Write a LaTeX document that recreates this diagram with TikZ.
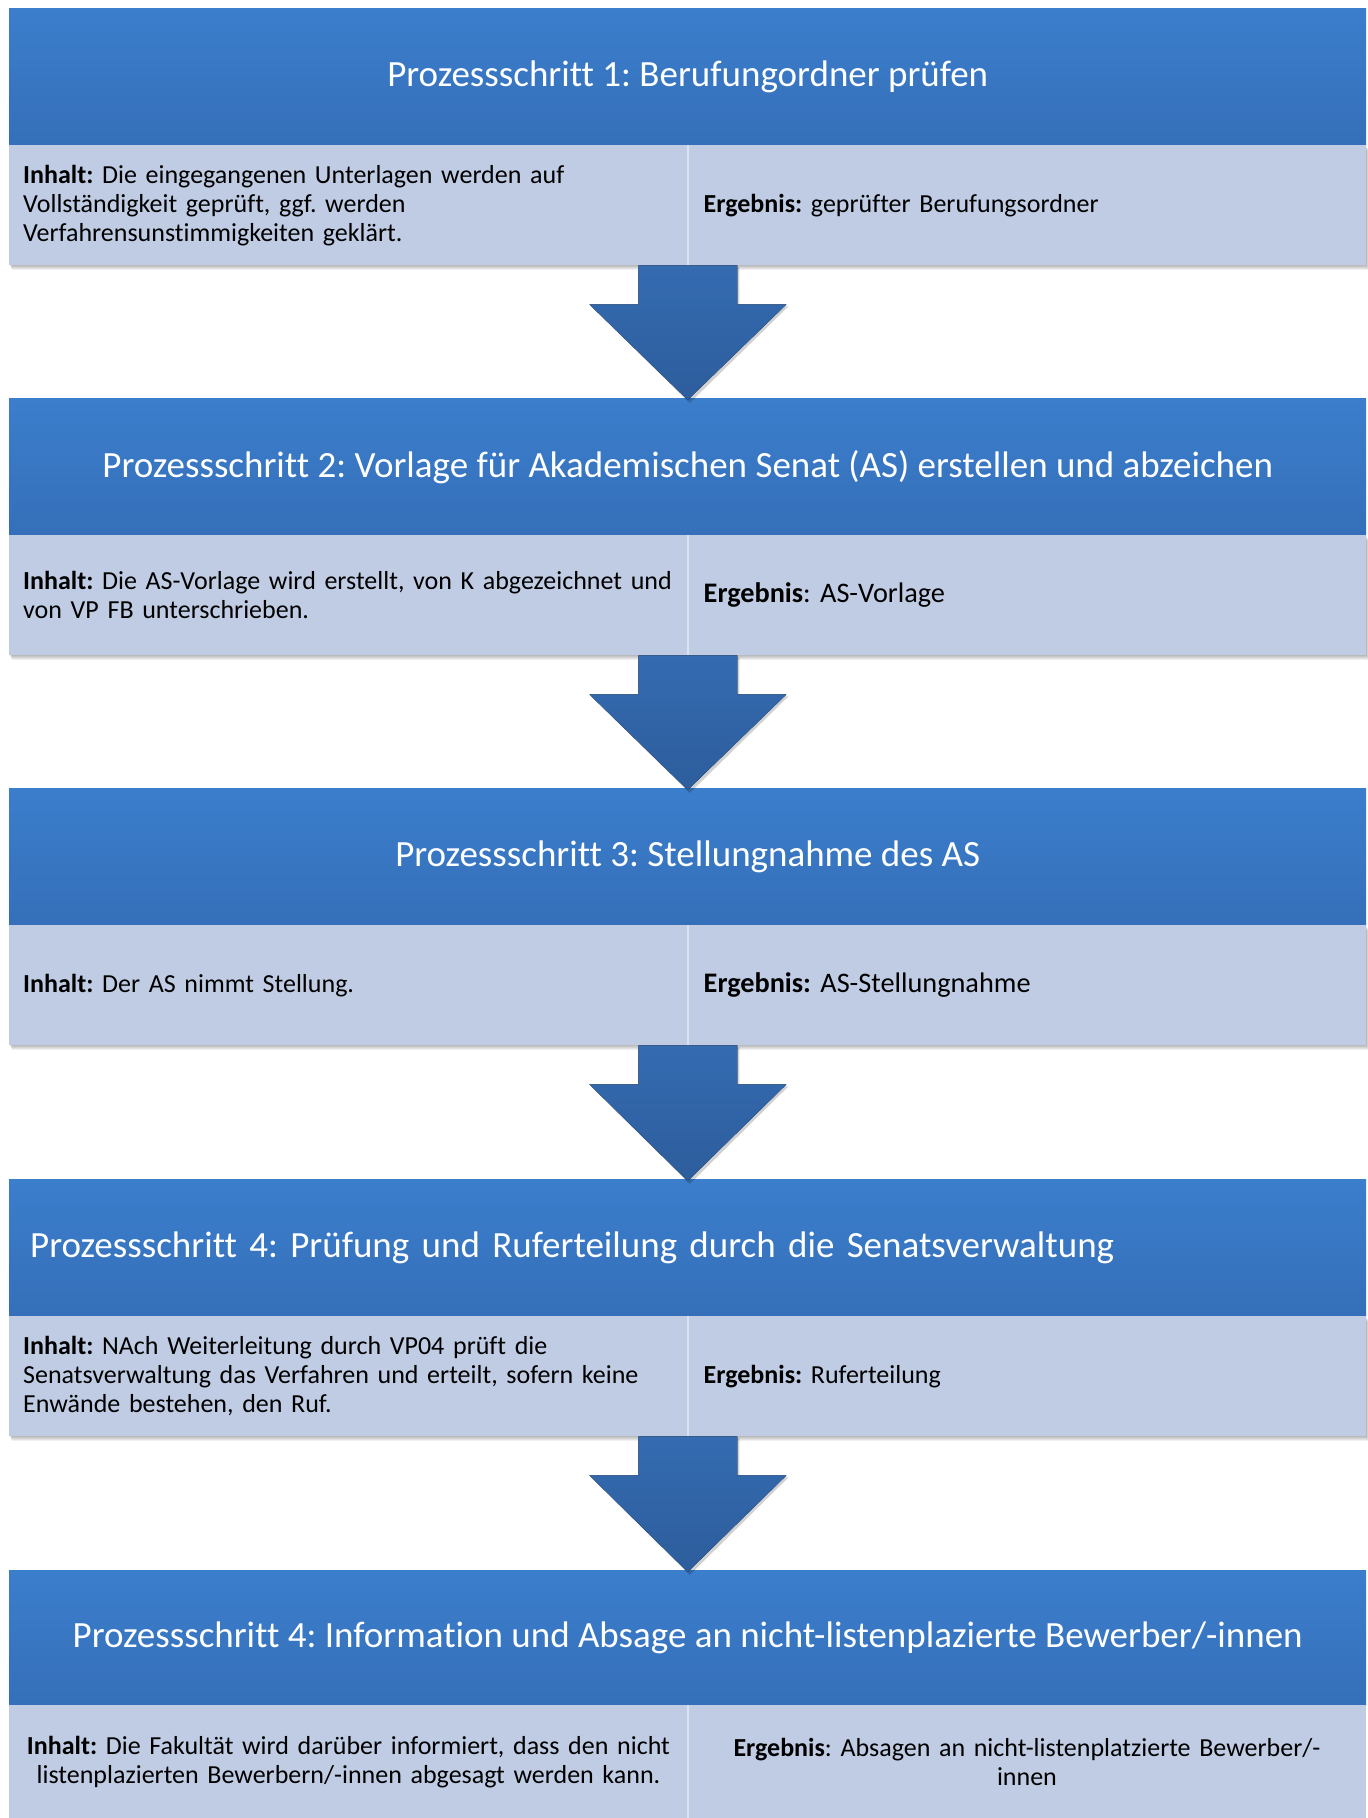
\documentclass[tikz,border=0pt]{standalone}
\usepackage{fontspec}
\setmainfont[Ligatures=NoCommon]{Carlito}
\usetikzlibrary{calc}
\frenchspacing
\hbadness=10000 \hfuzz=100pt
\definecolor{hdtop}{RGB}{59,126,204}
\definecolor{hdbot}{RGB}{53,111,185}
\definecolor{bodyc}{RGB}{191,204,227}
\definecolor{artop}{RGB}{52,107,177}
\definecolor{arbot}{RGB}{45,93,156}
\newcommand{\blockarrow}[2]{%
  \fill[black,opacity=0.18] ($(#1.south east)+(-47.5,2)$) -- ($(#1.south east)+(51.5,2)$) -- ($(#1.south east)+(51.5,41)$) -- ($(#1.south east)+(100.5,41)$) -- ($(#2.north)+(2,5)$) -- ($(#1.south east)+(-96.5,41)$) -- ($(#1.south east)+(-47.5,41)$) -- cycle;
  \fill[top color=artop,bottom color=arbot] ($(#1.south east)+(-49.5,0)$) -- ($(#1.south east)+(49.5,0)$) -- ($(#1.south east)+(49.5,39)$) -- ($(#1.south east)+(98.5,39)$) -- ($(#2.north)+(0,2)$) -- ($(#1.south east)+(-98.5,39)$) -- ($(#1.south east)+(-49.5,39)$) -- cycle;}
\newcommand{\bodyshadow}[2]{%
  \foreach \s in {1,2,3,4,5}{\fill[black,opacity=0.06] (9+0.6*\s,#1+\s) rectangle (1366+0.6*\s,#2+\s);}}
\begin{document}
\begin{tikzpicture}[x=1pt,y=-1pt,
  hdr/.style={anchor=north west, minimum width=1357pt, minimum height=137pt, inner sep=0pt,
    top color=hdtop, bottom color=hdbot, text=white, font=\fontsize{37}{44}\selectfont},
  bodyl/.style={anchor=north west, minimum width=678.5pt, minimum height=120pt, inner xsep=14pt, inner ysep=0pt,
    text width=650.5pt, align=left, fill=bodyc, text=black, font=\fontsize{26}{29}\selectfont},
  bodyr/.style={anchor=north west, minimum width=678.5pt, minimum height=120pt, inner xsep=16pt, inner ysep=0pt,
    text width=646.5pt, align=left, fill=bodyc, text=black, font=\fontsize{26}{29}\selectfont},
  bigr/.style={font=\fontsize{28.3}{32}\selectfont},
  divider/.style={draw=white, opacity=0.45, line width=1.5pt}]
\useasboundingbox (0,0) rectangle (1368,1818);
\fill[white] (0,0) rectangle (1368,1818);

% Box 1
\bodyshadow{145}{265}
\node[hdr] (h1) at (9,8) {Prozessschritt 1: Berufungordner prüfen};
\node[bodyl] (l1) at (9,145) {\textbf{Inhalt:} Die eingegangenen Unterlagen werden auf\\Vollständigkeit geprüft, ggf. werden\\Verfahrensunstimmigkeiten geklärt.};
\node[bodyr] (r1) at (687.5,145) {\textbf{Ergebnis:} geprüfter Berufungsordner};
\draw[divider] (l1.north east) -- (l1.south east);

% Box 2
\bodyshadow{535}{655}
\node[hdr] (h2) at (9,398) {Prozessschritt 2: Vorlage für Akademischen Senat (AS) erstellen und abzeichen};
\node[bodyl] (l2) at (9,535) {\mbox{\textbf{Inhalt:} Die AS-Vorlage wird erstellt, von K abgezeichnet und}\\von VP FB unterschrieben.};
\node[bodyr,bigr] (r2) at (687.5,535) {\textbf{Ergebnis}: AS-Vorlage};
\draw[divider] (l2.north east) -- (l2.south east);

% Box 3
\bodyshadow{925}{1045}
\node[hdr] (h3) at (9,788) {Prozessschritt 3: Stellungnahme des AS};
\node[bodyl] (l3) at (9,925) {\textbf{Inhalt:} Der AS nimmt Stellung.};
\node[bodyr,bigr] (r3) at (687.5,925) {\textbf{Ergebnis:} AS-Stellungnahme};
\draw[divider] (l3.north east) -- (l3.south east);

% Box 4
\bodyshadow{1316}{1436}
\node[hdr, inner xsep=21pt, text width=1315pt, align=left] (h4) at (9,1179) {Prozessschritt 4: Prüfung und Ruferteilung durch die Senatsverwaltung};
\node[bodyl] (l4) at (9,1316) {\textbf{Inhalt:} NAch Weiterleitung durch VP04 prüft die\\Senatsverwaltung das Verfahren und erteilt, sofern keine\\Enwände bestehen, den Ruf.};
\node[bodyr] (r4) at (687.5,1316) {\textbf{Ergebnis:} Ruferteilung};
\draw[divider] (l4.north east) -- (l4.south east);

% Box 5
\node[hdr, minimum height=135pt] (h5) at (9,1570) {Prozessschritt 4: Information und Absage an nicht-listenplazierte Bewerber/-innen};
\node[bodyl, minimum height=113pt, align=center] (l5) at (9,1705) {\textbf{Inhalt:} Die Fakultät wird darüber informiert, dass den nicht\\listenplazierten Bewerbern/-innen abgesagt werden kann.};
\node[bodyr, minimum height=113pt, align=center] (r5) at (687.5,1705) {\textbf{Ergebnis}: Absagen an nicht-listenplatzierte Bewerber/-\\innen};
\draw[divider] (l5.north east) -- (l5.south east);

% Arrows
\blockarrow{l1}{h2}
\blockarrow{l2}{h3}
\blockarrow{l3}{h4}
\blockarrow{l4}{h5}
\end{tikzpicture}
\end{document}
